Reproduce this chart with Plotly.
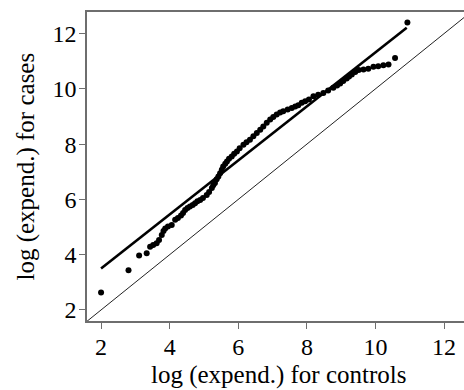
import plotly.graph_objects as go

# Q-Q points: log(expend.) controls vs cases
controls = [2.00, 2.80, 3.11, 3.33, 3.43, 3.52, 3.62, 3.69, 3.77, 3.82,
            3.87, 3.95, 4.06, 4.16, 4.24, 4.33, 4.39, 4.45, 4.52, 4.59,
            4.67, 4.74, 4.81, 4.89, 4.97, 5.08, 5.15, 5.23, 5.27, 5.32,
            5.37, 5.42, 5.47, 5.52, 5.56, 5.62, 5.67, 5.73, 5.81, 5.88,
            5.96, 6.04, 6.15, 6.24, 6.34, 6.44, 6.54, 6.64, 6.73, 6.83,
            6.93, 7.02, 7.12, 7.22, 7.31, 7.44, 7.56, 7.66, 7.75, 7.85,
            7.95, 8.06, 8.19, 8.33, 8.48, 8.62, 8.77, 8.88, 8.97, 9.06,
            9.16, 9.23, 9.31, 9.41, 9.51, 9.65, 9.79, 9.94, 10.08, 10.23,
            10.38, 10.57, 10.93]
cases = [2.63, 3.44, 3.97, 4.05, 4.29, 4.35, 4.41, 4.53, 4.71, 4.86,
         4.95, 5.02, 5.07, 5.26, 5.33, 5.42, 5.51, 5.62, 5.69, 5.74,
         5.80, 5.86, 5.93, 5.98, 6.05, 6.16, 6.27, 6.41, 6.51, 6.59,
         6.73, 6.83, 6.95, 7.07, 7.19, 7.29, 7.37, 7.47, 7.55, 7.65,
         7.73, 7.85, 7.98, 8.07, 8.16, 8.28, 8.40, 8.52, 8.64, 8.77,
         8.89, 8.98, 9.07, 9.14, 9.19, 9.25, 9.31, 9.36, 9.41, 9.50,
         9.55, 9.61, 9.73, 9.79, 9.85, 9.94, 10.04, 10.12, 10.19, 10.28,
         10.37, 10.45, 10.52, 10.61, 10.68, 10.70, 10.73, 10.80, 10.82, 10.85,
         10.88, 11.12, 12.40]

# fitted line endpoints
fit_x = [2.00, 10.91]
fit_y = [3.50, 12.21]

# identity reference line
diag_x = [0, 14]
diag_y = [0, 14]

tick_vals = [2, 4, 6, 8, 10, 12]
tick_text = ["2", "4", "6", "8", "10", "12"]

x_title = "log (expend.) for controls"
y_title = "log (expend.) for cases"

font_family = "Liberation Serif"

fig = go.Figure()
fig.add_trace(go.Scatter(x=diag_x, y=diag_y, mode="lines",
                         line=dict(color="#222222", width=1), hoverinfo="skip"))
fig.add_trace(go.Scatter(x=fit_x, y=fit_y, mode="lines",
                         line=dict(color="black", width=2.6)))
fig.add_trace(go.Scatter(x=controls, y=cases, mode="markers",
                         marker=dict(color="black", size=6, line=dict(width=0))))

axis_common = dict(
    showgrid=False, zeroline=False, automargin=False,
    showline=True, linecolor="#6e6e6e", linewidth=1.5,
    ticks="outside", ticklen=6, tickwidth=1.2, tickcolor="#6e6e6e",
    tickvals=tick_vals, ticktext=tick_text,
    tickfont=dict(family=font_family, size=24, color="black"),
)

fig.update_layout(
    width=464, height=390,
    margin=dict(l=87, r=0, t=12, b=69),
    paper_bgcolor="white", plot_bgcolor="white",
    showlegend=False,
    font=dict(family=font_family, color="black"),
    xaxis=dict(range=[1.59, 12.58], mirror=True, ticklabelstandoff=-3,
               **axis_common),
    yaxis=dict(range=[1.60, 12.78], ticklabelstandoff=-2, **axis_common),
    annotations=[
        dict(text=x_title, xref="paper", yref="paper", x=0.508, y=0,
             xanchor="center", yanchor="middle", yshift=-54, showarrow=False,
             font=dict(family=font_family, size=25, color="black")),
        dict(text=y_title, xref="paper", yref="paper", x=0, y=0.5,
             xanchor="center", yanchor="middle", xshift=-62, showarrow=False,
             textangle=-90,
             font=dict(family=font_family, size=25, color="black")),
    ],
)

fig.write_html("out.html",
               config={"displayModeBar": False},
               post_script="document.body.style.margin='0';document.body.style.padding='0';")
